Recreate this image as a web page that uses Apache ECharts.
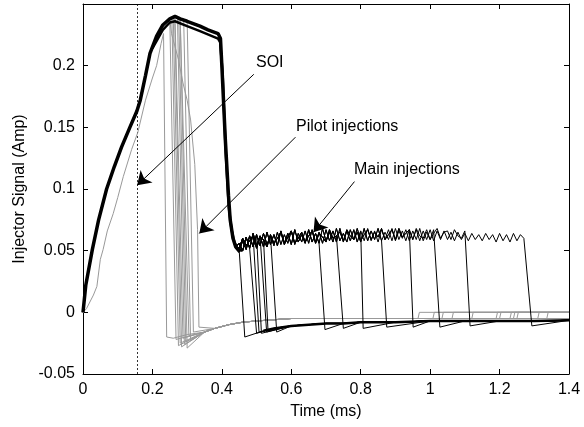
<!DOCTYPE html>
<html>
<head>
<meta charset="utf-8">
<script src="https://cdn.jsdelivr.net/npm/echarts@6/dist/echarts.min.js"></script>
<style>html,body{margin:0;padding:0;background:#fff}#c{width:584px;height:427px}</style>
</head>
<body>
<div id="c"></div>
<script>
// ---- axis ticks ----
const xTicks = [0, 0.2, 0.4, 0.6, 0.8, 1, 1.2, 1.4];
const yTicks = [-0.05, 0, 0.05, 0.1, 0.15, 0.2];
const socTime = 0.157; // SOI marker (ms)

// ---- common rising edge / top of current (thick black band) ----
const bandA = [[0,0],[0.008,0.022],[0.027,0.051],[0.045,0.075],[0.068,0.1],[0.09,0.118],[0.111,0.134],[0.135,0.15],[0.155,0.163],[0.165,0.172],[0.18,0.192],[0.193,0.21],[0.212,0.224],[0.23,0.233],[0.25,0.238],[0.265,0.240],[0.28,0.238],[0.3,0.236],[0.337,0.232],[0.36,0.229],[0.389,0.226],[0.396,0.222],[0.40,0.2],[0.41,0.14],[0.419,0.095],[0.424,0.075],[0.432,0.06],[0.44,0.053],[0.452,0.049]];
const bandB = [[0.2,0.214],[0.23,0.229],[0.25,0.235],[0.265,0.236],[0.3,0.232],[0.337,0.228],[0.389,0.222],[0.395,0.219],[0.402,0.195],[0.411,0.13],[0.42,0.085],[0.428,0.067],[0.436,0.057],[0.446,0.051],[0.46,0.05]];

// ---- main injection hold plateau (three traces' noise) ----
const plateauT = [0.45,0.46,0.47,0.48,0.49,0.50,0.51,0.52,0.53,0.54,
0.55,0.56,0.57,0.58,0.59,0.60,0.61,0.62,0.63,0.64,
0.65,0.66,0.67,0.68,0.69,0.70,0.71,0.72,0.73,0.74,
0.75,0.76,0.77,0.78,0.79,0.80,0.81,0.82,0.83,0.84,
0.85,0.86,0.87,0.88,0.89,0.90,0.91,0.92,0.93,0.94,
0.95,0.96,0.97,0.98,0.99,1.00,1.01,1.02,1.03,1.04,
1.05,1.06,1.07,1.08,1.09,1.10,1.11,1.12,1.13,1.14,
1.15,1.16,1.17,1.18,1.19,1.20,1.21,1.22,1.23,1.24,
1.25,1.26,1.27,1.28];
const plateauA = [0.050,0.058,0.051,0.062,0.053,0.063,0.054,0.064,0.055,0.062,
0.054,0.065,0.055,0.063,0.056,0.066,0.055,0.064,0.057,0.066,
0.056,0.067,0.057,0.065,0.056,0.067,0.058,0.066,0.057,0.068,
0.057,0.066,0.058,0.067,0.057,0.066,0.058,0.068,0.058,0.066,
0.057,0.067,0.059,0.067,0.058,0.068,0.059,0.066,0.058,0.067,
0.059,0.067,0.058,0.066,0.059,0.067,0.058,0.066,0.059,0.066,
0.059,0.065,0.058,0.065,0.059,0.064,0.058,0.064,0.059,0.063,
0.058,0.064,0.059,0.063,0.057,0.064,0.058,0.063,0.057,0.064,
0.058,0.063,0.060,0.058];
const plateauB = [0.056,0.050,0.061,0.052,0.064,0.054,0.062,0.053,0.065,0.055,
0.063,0.054,0.066,0.056,0.064,0.055,0.067,0.057,0.063,0.056,
0.067,0.057,0.064,0.056,0.068,0.058,0.065,0.057,0.068,0.058,
0.064,0.057,0.067,0.059,0.065,0.057,0.068,0.058,0.066,0.059,
0.068,0.058,0.065,0.059,0.068,0.058,0.066,0.060,0.067,0.058,
0.066,0.059,0.068,0.058,0.065,0.059,0.067,0.059,0.066,0.058,
0.067,0.059,0.065,0.058,0.066,0.059,0.067,0.058,0.065,0.059,
0.066,0.058,0.065,0.059,0.067,0.058,0.065,0.059,0.066,0.058,
0.065,0.059,0.066,0.058];
const plateauC = [0.052,0.060,0.054,0.058,0.062,0.052,0.061,0.059,0.053,0.063,
0.056,0.060,0.065,0.055,0.061,0.066,0.056,0.060,0.065,0.057,
0.062,0.066,0.056,0.064,0.061,0.057,0.067,0.060,0.062,0.065,
0.058,0.067,0.062,0.059,0.068,0.058,0.063,0.067,0.059,0.065,
0.061,0.068,0.059,0.063,0.067,0.059,0.068,0.061,0.064,0.067,
0.059,0.068,0.062,0.060,0.067,0.059,0.064,0.068,0.060,0.065,
0.066,0.059,0.067,0.062,0.060,0.066,0.059,0.064,0.062,0.059,
0.065,0.060,0.064,0.059,0.062,0.065,0.059,0.064,0.060,0.062,
0.059,0.064,0.060,0.059];

// ---- main injections: end of hold, bottom of undershoot ----
const mainEndX = [0.457,0.481,0.495,0.504,0.515,0.524,0.547,0.687,0.738,0.80,0.863,0.94,1.019,1.103,1.278];
const mainBotX = [0.466,0.50,0.507,0.514,0.529,0.533,0.558,0.697,0.75,0.807,0.875,0.951,1.028,1.115,1.293];
const mainBotY = [-0.020,-0.017,-0.016,-0.017,-0.016,-0.015,-0.016,-0.014,-0.013,-0.013,-0.012,-0.012,-0.012,-0.011,-0.011];
const mainNoise = ['A','B','C','A','B','C','A','B','C','A','B','C','B','C','A'];
const blackBase = [[0.47,-0.019],[0.49,-0.017],[0.52,-0.015],[0.55,-0.013],[0.6,-0.011],[0.65,-0.010],[0.7,-0.009],[0.75,-0.009],[0.8,-0.008],[0.9,-0.008],[1.0,-0.007],[1.1,-0.007],[1.2,-0.007],[1.3,-0.007],[1.4,-0.0065]];

// ---- pilot injections (grey) ----
const pilotDropX = [0.25,0.256,0.26,0.264,0.268,0.272,0.276,0.28,0.285,0.29,0.30];
const pilotTopY  = [0.238,0.239,0.240,0.240,0.240,0.240,0.239,0.239,0.239,0.238,0.237];
const pilotBotX  = [0.268,0.275,0.28,0.284,0.288,0.292,0.296,0.30,0.305,0.31,0.318];
const pilotBotY  = [-0.022,-0.027,-0.025,-0.028,-0.021,-0.026,-0.024,-0.029,-0.019,-0.023,-0.016];
const pilotStepX = [0.965,1.008,1.034,1.063,1.19,1.23,1.24,1.25,1.31,1.336,1.45];
const greyTail = [[0.35,-0.016],[0.38,-0.013],[0.42,-0.010],[0.46,-0.008],[0.5,-0.007],[0.55,-0.006],[0.6,-0.005],[0.7,-0.005],[0.8,-0.005],[0.9,-0.005],[1.0,-0.005],[1.1,-0.005],[1.2,-0.005],[1.3,-0.005],[1.4,-0.005]];
const greyTailLevel = -0.005;
const greyStepLevel = 0.0;
const greySlow = [[0,0],[0.01,0.003],[0.03,0.014],[0.04,0.021],[0.05,0.043],[0.058,0.051],[0.07,0.066],[0.087,0.08],[0.1,0.093],[0.116,0.11],[0.14,0.132],[0.158,0.146],[0.18,0.172],[0.2,0.19],[0.212,0.2],[0.225,0.218],[0.232,0.226],[0.241,-0.02],[0.26,-0.021],[0.3,-0.018]];
const greySlowStep = 1.12;
const greyLate = [[0.25,0.238],[0.255,0.226],[0.275,0.205],[0.288,0.186],[0.3,0.172],[0.31,0.156],[0.322,0.12],[0.33,0.067],[0.334,-0.012]];
const greyLateStep = 1.2;

// ---- annotations ----
const notes = [
  {text:'SOI', from:[0.492,0.193], to:[0.156,0.103], textAt:[256,63]},
  {text:'Pilot injections', from:[0.612,0.142], to:[0.335,0.064], textAt:[296,127]},
  {text:'Main injections', from:[0.782,0.106], to:[0.664,0.065], textAt:[354,170]}
];

const FONT = 'Liberation Sans, Arial, sans-serif';
const GREY = '#999999';
const noiseMap = {A:plateauA, B:plateauB, C:plateauC};

function greyTailFrom(x0, stepX){
  const pts = [];
  greyTail.forEach(p => { if (p[0] >= x0 + 0.04 && p[0] < stepX) pts.push(p); });
  if (stepX <= 1.4) {
    pts.push([stepX, greyTailLevel]);
    pts.push([stepX + 0.004, greyStepLevel]);
    pts.push([1.4, greyStepLevel]);
  }
  return pts;
}

const series = [];
function lineS(data, color, width, extra){
  return Object.assign({type:'line', data:data, symbol:'none', showSymbol:false, silent:true,
    lineStyle:{color:color, width:width}, xAxisIndex:0, yAxisIndex:0, z:2}, extra||{});
}

// grey pilot traces
pilotDropX.forEach((dx,i) => {
  const pts = [];
  bandA.forEach(p => { if (p[0] < dx) pts.push(p); });
  pts.push([dx, pilotTopY[i]]);
  pts.push([pilotBotX[i], pilotBotY[i]]);
  greyTailFrom(pilotBotX[i], pilotStepX[i]).forEach(p => pts.push(p));
  series.push(lineS(pts, GREY, 1));
});
series.push(lineS(greySlow.concat(greyTailFrom(0.3, greySlowStep)), GREY, 1));
series.push(lineS(greyLate.concat(greyTailFrom(0.334, greyLateStep)), GREY, 1));

// black main traces
mainEndX.forEach((ex,i) => {
  const n = noiseMap[mainNoise[i]];
  const pts = [[0.44,0.053]];
  plateauT.forEach((t,k) => { if (t <= ex) pts.push([t, n[k]]); });
  pts.push([mainBotX[i], mainBotY[i]]);
  blackBase.forEach(p => { if (p[0] >= mainBotX[i] + 0.04) pts.push(p); });
  series.push(lineS(pts, '#000', 1, {z:3}));
});
// thick overlapped portions
series.push(lineS(blackBase.filter(p => p[0] >= 0.5), '#000', 2.5, {z:3}));
series.push(lineS(bandA, '#000', 3.5, {z:4}));
series.push(lineS(bandB, '#000', 2.5, {z:4}));
// SOI marker line
series.push(lineS([[socTime,-0.05],[socTime,0.25]], '#000', 0.8, {z:1, lineStyle:{color:'#000', width:0.8, type:[2,2]}}));
// arrows
series.push({type:'lines', coordinateSystem:'cartesian2d', xAxisIndex:0, yAxisIndex:0, silent:true, z:6,
  symbol:['none','arrow'], symbolSize:13,
  lineStyle:{color:'#000', width:1, opacity:1, curveness:0},
  data: notes.map(n => ({coords:[n.from, n.to]}))});

const axisCommon = {
  axisLine:{onZero:false, lineStyle:{color:'#000', width:1}},
  axisTick:{inside:true, length:5, lineStyle:{color:'#000', width:1}},
  splitLine:{show:false}
};
const option = {
  animation:false,
  backgroundColor:'#fff',
  grid:{left:83, right:15, top:4, bottom:53, containLabel:false},
  xAxis:[
    Object.assign({type:'value', min:0, max:1.4, interval:0.2, position:'bottom',
      axisLabel:{color:'#000', fontSize:16, fontFamily:FONT, margin:8, showMinLabel:true, showMaxLabel:true},
      name:'Time (ms)', nameLocation:'middle', nameGap:30,
      nameTextStyle:{color:'#000', fontSize:16, fontFamily:FONT}}, axisCommon),
    Object.assign({type:'value', min:0, max:1.4, interval:0.2, position:'top', axisLabel:{show:false}}, axisCommon)
  ],
  yAxis:[
    Object.assign({type:'value', min:-0.05, max:0.25, interval:0.05, position:'left',
      axisLabel:{color:'#000', fontSize:16, fontFamily:FONT, margin:8, showMinLabel:true, showMaxLabel:true,
        formatter: v => (yTicks.some(t => Math.abs(t - v) < 1e-9) ? String(+v.toFixed(2)) : '')},
      name:'Injector Signal (Amp)', nameLocation:'middle', nameGap:55,
      nameTextStyle:{color:'#000', fontSize:16, fontFamily:FONT}}, axisCommon),
    Object.assign({type:'value', min:-0.05, max:0.25, interval:0.05, position:'right', axisLabel:{show:false}}, axisCommon)
  ],
  graphic: notes.map(n => ({type:'text', x:n.textAt[0], y:n.textAt[1], z:10,
    style:{text:n.text, fill:'#000', font:'16px ' + FONT, verticalAlign:'middle', textAlign:'left'}})),
  series: series
};
const chart = echarts.init(document.getElementById('c'), null, {renderer:'canvas'});
chart.setOption(option);
</script>
</body>
</html>
